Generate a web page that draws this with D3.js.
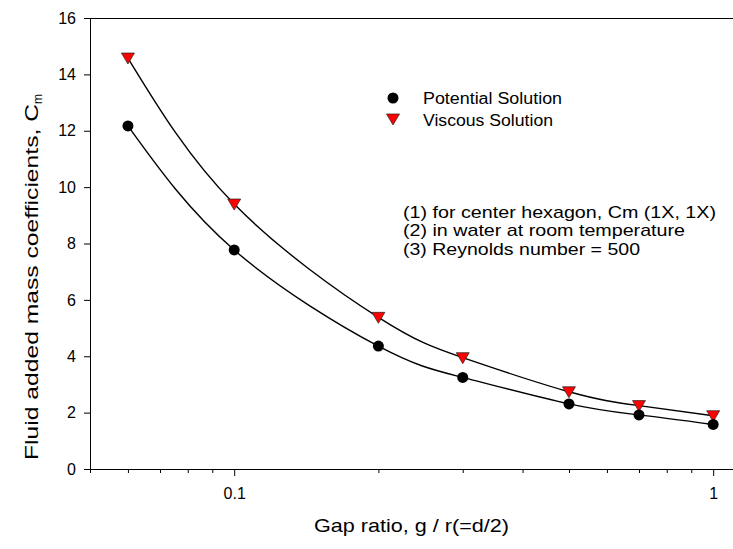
<!DOCTYPE html>
<meta charset="utf-8">
<style>
    body {
        margin: 0;
        background: #fff;
    }

    text {
        font-family: "Liberation Sans", Arial, sans-serif;
        fill: #000;
    }
</style>

<body>
    <svg width="733" height="549"></svg>

    <script src="https://d3js.org/d3.v7.min.js"></script>
    <script>
        // donnees
        const gapRatio = [0.06, 0.1, 0.2, 0.3, 0.5, 0.7, 1.0];
        const potentialCm = [12.17, 7.77, 4.36, 3.25, 2.31, 1.92, 1.58];
        const viscousCm = [14.58, 9.4, 5.38, 3.95, 2.74, 2.25, 1.89];

        const yTicks = [0, 2, 4, 6, 8, 10, 12, 14, 16];
        const xMajorTicks = [0.1, 1];
        const xMinorTicks = [0.05, 0.06, 0.07, 0.08, 0.09, 0.2, 0.3, 0.4, 0.5, 0.6, 0.7, 0.8, 0.9];

        const legendLabels = ["Potential Solution", "Viscous Solution"];
        const notes = [
            "(1) for center hexagon, Cm (1X, 1X)",
            "(2) in water at room temperature",
            "(3) Reynolds number = 500"
        ];

        const svg = d3.select("svg");
        const width = +svg.attr("width");
        const height = +svg.attr("height");
        const margin = { top: 18, bottom: 80, left: 90, right: 0 };

        const x = d3.scaleLog()
            .domain([0.05, 1.1])
            .range([margin.left, width - margin.right]);

        const y = d3.scaleLinear()
            .domain([0, 16])
            .range([height - margin.bottom, margin.top]);

        // axe y
        const yAxis = svg.append("g")
            .attr("transform", `translate(${margin.left},0)`)
            .call(d3.axisLeft(y).tickValues(yTicks).tickSize(6).tickPadding(8).tickSizeOuter(0));

        // axe x : graduations mineures puis majeures
        const xAxisMinor = svg.append("g")
            .attr("transform", `translate(0,${y(0)})`)
            .call(d3.axisBottom(x).tickValues(xMinorTicks).tickSize(4).tickFormat("").tickSizeOuter(0));

        const xAxisMajor = svg.append("g")
            .attr("transform", `translate(0,${y(0)})`)
            .call(d3.axisBottom(x).tickValues(xMajorTicks).tickSize(7).tickPadding(12)
                .tickFormat(d3.format("~g")).tickSizeOuter(0));

        [yAxis, xAxisMinor, xAxisMajor].forEach(g => {
            g.selectAll("text")
                .style("font-family", "'Liberation Sans', Arial, sans-serif")
                .style("font-size", "16px")
                .attr("fill", "#000");
            g.selectAll("line, path").attr("stroke", "#000");
        });

        // trait du haut du cadre
        svg.append("line")
            .attr("x1", margin.left)
            .attr("x2", width)
            .attr("y1", y(16) + 0.5)
            .attr("y2", y(16) + 0.5)
            .attr("stroke", "#000");

        // courbes lissees
        const line = d3.line()
            .x((d, i) => x(gapRatio[i]))
            .y(d => y(d))
            .curve(d3.curveNatural);

        [potentialCm, viscousCm].forEach(series => {
            svg.append("path")
                .datum(series)
                .attr("d", line)
                .attr("fill", "none")
                .attr("stroke", "#000")
                .attr("stroke-width", 1.4);
        });

        const triangle = "M-6.5,-5L6.5,-5L0,6Z";

        svg.append("g")
            .selectAll("path")
            .data(viscousCm)
            .join("path")
            .attr("d", triangle)
            .attr("transform", (d, i) => `translate(${x(gapRatio[i])},${y(d)})`)
            .attr("fill", "#ff0000")
            .attr("stroke", "#222")
            .attr("stroke-width", 0.7);

        svg.append("g")
            .selectAll("circle")
            .data(potentialCm)
            .join("circle")
            .attr("cx", (d, i) => x(gapRatio[i]))
            .attr("cy", d => y(d))
            .attr("r", 5.5)
            .attr("fill", "#000");

        // legende
        svg.append("circle")
            .attr("cx", 393)
            .attr("cy", 98)
            .attr("r", 5.5)
            .attr("fill", "#000");
        svg.append("path")
            .attr("d", triangle)
            .attr("transform", "translate(393,119)")
            .attr("fill", "#ff0000")
            .attr("stroke", "#222")
            .attr("stroke-width", 0.7);

        const legendWidths = [139, 130];
        svg.selectAll(".legendText")
            .data(legendLabels)
            .join("text")
            .attr("class", "legendText")
            .attr("x", 423)
            .attr("y", (d, i) => 104 + i * 21.5)
            .attr("textLength", (d, i) => legendWidths[i])
            .attr("lengthAdjust", "spacingAndGlyphs")
            .style("font-size", "16px")
            .text(d => d);

        const noteWidths = [313, 282, 237];
        svg.selectAll(".note")
            .data(notes)
            .join("text")
            .attr("class", "note")
            .attr("x", 403)
            .attr("y", (d, i) => 218 + i * 18.3)
            .attr("textLength", (d, i) => noteWidths[i])
            .attr("lengthAdjust", "spacingAndGlyphs")
            .style("font-size", "17px")
            .text(d => d);

        // titres des axes
        svg.append("text")
            .attr("x", 314)
            .attr("y", 532)
            .attr("textLength", 195)
            .attr("lengthAdjust", "spacingAndGlyphs")
            .style("font-size", "19px")
            .text("Gap ratio, g / r(=d/2)");

        svg.append("text")
            .attr("transform", "translate(38,460) rotate(-90)")
            .attr("textLength", 356)
            .attr("lengthAdjust", "spacingAndGlyphs")
            .style("font-size", "19px")
            .text("Fluid added mass coefficients, C");
        svg.append("text")
            .attr("transform", "translate(42,104) rotate(-90)")
            .style("font-size", "12px")
            .text("m");
    </script>
</body>
